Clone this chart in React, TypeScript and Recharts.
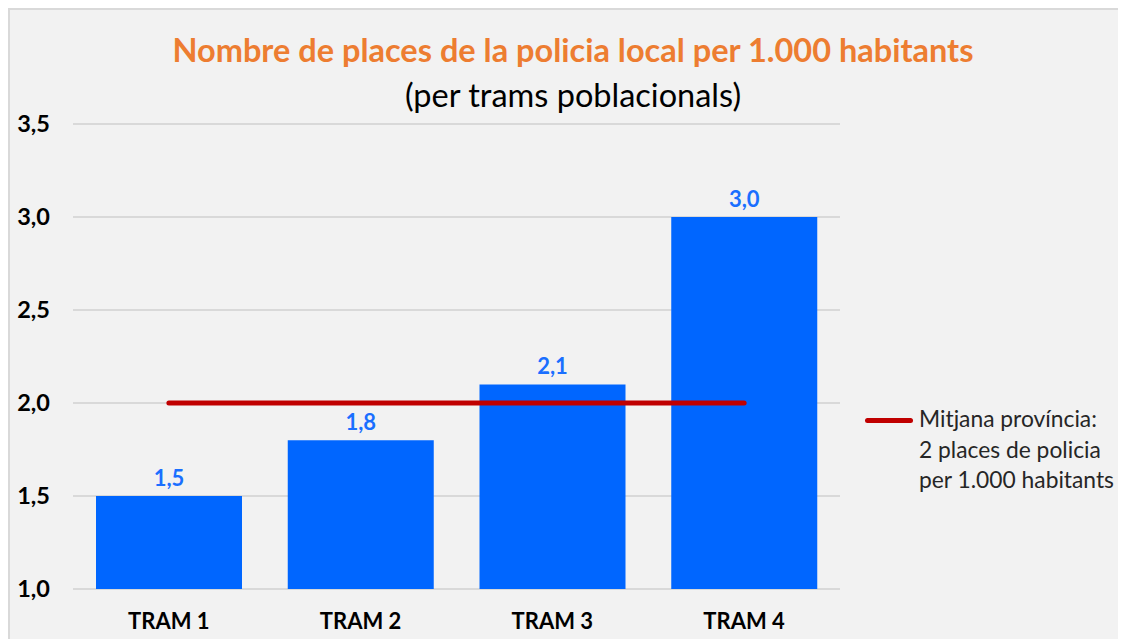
import {
  ComposedChart,
  Bar,
  Line,
  XAxis,
  YAxis,
  CartesianGrid,
  LabelList,
} from "recharts";

const categories = ["TRAM 1", "TRAM 2", "TRAM 3", "TRAM 4"];
const placesPer1000 = [1.5, 1.8, 2.1, 3.0];
const provinceAverage = [2, 2, 2, 2];
const yTicks = [1.0, 1.5, 2.0, 2.5, 3.0, 3.5];

const title = "Nombre de places de la policia local per 1.000 habitants";
const subtitle = "(per trams poblacionals)";
const legendLines = ["Mitjana província:", "2 places de policia", "per 1.000 habitants"];

const FONT = "Lato, 'Open Sans', sans-serif";

const data = categories.map((c, i) => ({
  name: c,
  value: placesPer1000[i],
  avg: provinceAverage[i],
}));

const fmt = (v: number) => v.toFixed(1).replace(".", ",");

export default function App() {
  return (
    <div
      style={{
        position: "relative",
        width: 1118,
        height: 631,
        background: "#f2f2f2",
        borderTop: "2px solid #d9d9d9",
        borderLeft: "2px solid #d9d9d9",
        boxSizing: "border-box",
        overflow: "hidden",
        fontFamily: FONT,
      }}
    >
      {/* titles */}
      <div
        style={{
          position: "absolute",
          left: 0,
          width: 1126,
          top: 20,
          textAlign: "center",
          color: "#ed7d31",
          fontWeight: 700,
          fontSize: 32.5,
          lineHeight: "40px",
        }}
      >
        {title}
      </div>
      <div
        style={{
          position: "absolute",
          left: 0,
          width: 1126,
          top: 65,
          textAlign: "center",
          color: "#000",
          fontSize: 32.5,
          lineHeight: "40px",
        }}
      >
        {subtitle}
      </div>

      <ComposedChart
        width={1118}
        height={631}
        data={data}
        margin={{ top: 114, right: 288, bottom: 10, left: 0 }}
      >
        <CartesianGrid vertical={false} stroke="#d9d9d9" strokeWidth={2} />
        <XAxis
          dataKey="name"
          axisLine={false}
          tickLine={false}
          tickSize={0}
          tickMargin={24}
          height={42}
          tick={{ fill: "#000", fontSize: 22, fontWeight: 700, fontFamily: FONT }}
        />
        <YAxis
          domain={[1, 3.5]}
          ticks={yTicks}
          axisLine={false}
          tickLine={false}
          tickSize={0}
          tickMargin={23}
          width={63}
          tickFormatter={fmt}
          tick={{ fill: "#000", fontSize: 23.5, fontWeight: 700, fontFamily: FONT }}
        />
        <Bar dataKey="value" fill="#0066ff" barSize={146} isAnimationActive={false}>
          <LabelList
            dataKey="value"
            position="top"
            offset={10}
            formatter={(v: any) => fmt(Number(v))}
            style={{ fill: "#1a6fff", fontSize: 22, fontWeight: 700, fontFamily: FONT }}
          />
        </Bar>
        <Line
          dataKey="avg"
          stroke="#c00000"
          strokeWidth={5}
          strokeLinecap="round"
          dot={false}
          activeDot={false}
          isAnimationActive={false}
        />
      </ComposedChart>

      {/* legend */}
      <div style={{ position: "absolute", left: 855, top: 393 }}>
        <div
          style={{
            position: "absolute",
            left: 0,
            top: 15,
            width: 48,
            height: 5,
            borderRadius: 3,
            background: "#c00000",
          }}
        />
        <div
          style={{
            position: "absolute",
            left: 54,
            top: 0,
            whiteSpace: "nowrap",
            fontSize: 22.8,
            lineHeight: "30.5px",
            color: "#262626",
          }}
        >
          {legendLines.map((l) => (
            <div key={l}>{l}</div>
          ))}
        </div>
      </div>
    </div>
  );
}
